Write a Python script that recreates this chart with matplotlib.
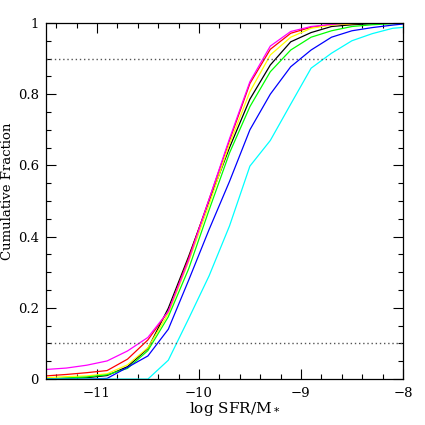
import matplotlib
matplotlib.use("Agg")
import matplotlib.pyplot as plt
from matplotlib.ticker import MultipleLocator

plt.rcParams['font.family'] = ['DejaVu Serif']
plt.rcParams['mathtext.fontset'] = 'dejavuserif'

x = [-11.5, -11.3, -11.1, -10.9, -10.7, -10.5, -10.3, -10.1, -9.9, -9.7,
     -9.5, -9.3, -9.1, -8.9, -8.7, -8.5, -8.3, -8.1, -7.9]

black   = [0.000, 0.002, 0.004, 0.010, 0.035, 0.086, 0.199, 0.345, 0.500, 0.650,
           0.786, 0.882, 0.947, 0.973, 0.990, 0.995, 0.998, 1.000, 1.000]
red     = [0.009, 0.013, 0.018, 0.024, 0.056, 0.110, 0.190, 0.340, 0.505, 0.670,
           0.830, 0.926, 0.971, 0.988, 0.995, 0.998, 1.000, 1.000, 1.000]
yellow  = [0.004, 0.007, 0.009, 0.015, 0.040, 0.088, 0.184, 0.330, 0.490, 0.660,
           0.807, 0.910, 0.960, 0.985, 0.994, 0.998, 1.000, 1.000, 1.000]
green   = [0.000, 0.003, 0.006, 0.012, 0.030, 0.080, 0.175, 0.310, 0.475, 0.635,
           0.765, 0.863, 0.924, 0.960, 0.978, 0.990, 0.995, 0.998, 1.000]
blue    = [0.000, 0.000, 0.000, 0.002, 0.033, 0.065, 0.140, 0.278, 0.420, 0.555,
           0.700, 0.800, 0.877, 0.924, 0.960, 0.978, 0.987, 0.994, 1.000]
cyan    = [0.000, 0.000, 0.000, 0.000, 0.000, 0.000, 0.053, 0.170, 0.290, 0.430,
           0.598, 0.670, 0.772, 0.873, 0.915, 0.950, 0.970, 0.985, 0.990]
magenta = [0.027, 0.031, 0.039, 0.051, 0.079, 0.117, 0.190, 0.335, 0.505, 0.675,
           0.835, 0.935, 0.976, 0.990, 0.996, 1.000, 1.000, 1.000, 1.000]

series = [(black, '#000000'), (red, '#ff0000'), (yellow, '#ffff00'),
          (green, '#00ff00'), (blue, '#0000ff'), (cyan, '#00ffff'),
          (magenta, '#ff00ff')]
ref_levels = [0.1, 0.9]

fig = plt.figure(figsize=(4.25, 4.25), dpi=100)
ax = fig.add_axes([0.108, 0.108, 0.84, 0.838])

for y, c in series:
    ax.plot(x, y, color=c, lw=0.9, clip_on=True)
for lv in ref_levels:
    ax.axhline(lv, color='#555555', lw=1.0, ls=(0, (1, 2)))

ax.set_xlim(-11.5, -8)
ax.set_ylim(0, 1)
ax.xaxis.set_minor_locator(MultipleLocator(0.2))
ax.yaxis.set_minor_locator(MultipleLocator(0.05))
ax.set_yticks([0, 0.2, 0.4, 0.6, 0.8, 1])
ax.set_yticklabels(['0', '0.2', '0.4', '0.6', '0.8', '1'])
ax.set_xticks([-11, -10, -9, -8])
ax.set_xticklabels(['\u221211', '\u221210', '\u22129', '\u22128'])
ax.tick_params(which='both', direction='in', top=True, right=True, labelsize=9.5, width=0.8)
ax.tick_params(which='major', length=7)
ax.tick_params(which='minor', length=3.5)
ax.tick_params(axis='x', pad=6)
ax.tick_params(axis='y', pad=5)
for s in ax.spines.values():
    s.set_linewidth(0.9)

ax.set_xlabel('log SFR/M$_*$', fontsize=11)
ax.xaxis.set_label_coords(0.529, -0.058)
ax.xaxis.label.set_va('top')
ax.set_ylabel('Cumulative Fraction', fontsize=9.5)
ax.yaxis.set_label_coords(-0.088, 0.528)

fig.savefig('out.png', dpi=100)
